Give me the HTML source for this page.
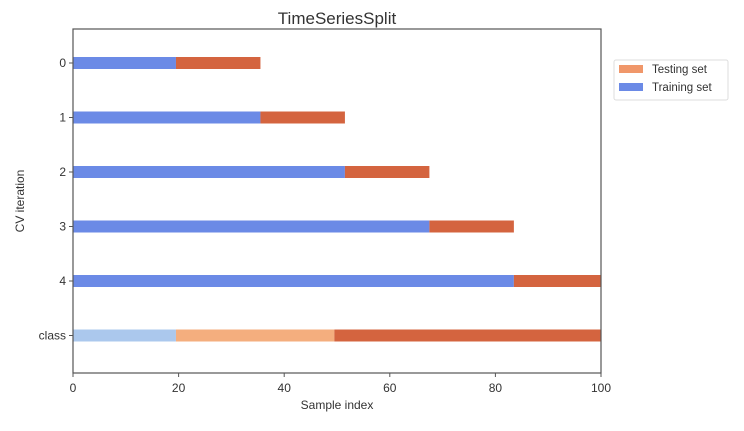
<!DOCTYPE html>
<html><head><meta charset="utf-8"><style>
html,body{margin:0;padding:0;background:#fff;}
svg text{font-family:"Liberation Sans","DejaVu Sans",sans-serif;fill:#333;}
</style></head><body>
<svg id="chart" width="744" height="426" xmlns="http://www.w3.org/2000/svg">
<text x="337" y="24" font-size="17" text-anchor="middle">TimeSeriesSplit</text>
<g id="marks"></g>
<rect x="73" y="29" width="528" height="344" fill="none" stroke="#555" stroke-width="1.2"/>
<g id="axes"></g>
<text x="337" y="409" font-size="12" text-anchor="middle">Sample index</text>
<text transform="translate(24,201) rotate(-90)" font-size="12" text-anchor="middle">CV iteration</text>
<g>
<rect x="614" y="60" width="114" height="40" fill="#fff" stroke="#ddd" rx="2"/>
<rect x="619" y="65" width="24" height="8" fill="#f0976a"/>
<text x="652" y="73" font-size="11.5">Testing set</text>
<rect x="619" y="83" width="24" height="8" fill="#6b8ae6"/>
<text x="652" y="91" font-size="11.5">Training set</text>
</g>
</svg>
<script>
const rowLabels = ["0","1","2","3","4","class"];
const trainEnd = [19.5, 35.5, 51.5, 67.5, 83.5];
const testEnd = [35.5, 51.5, 67.5, 83.5, 100];
const classBounds = [0, 19.5, 49.5, 100];
const xTicks = [0, 20, 40, 60, 80, 100];

const NS = "http://www.w3.org/2000/svg";
const xs = v => 73 + v * 5.28;
const ys = i => 63 + i * 54.5;
const classColors = ["#abc8ed", "#f4ae7e", "#d4643f"];
const marks = document.getElementById("marks");
const axes = document.getElementById("axes");
function mk(tag, attrs, parent) {
  const e = document.createElementNS(NS, tag);
  for (const k in attrs) e.setAttribute(k, attrs[k]);
  parent.appendChild(e);
  return e;
}
trainEnd.forEach((t, i) => {
  const r = mk("rect", {x: xs(0), y: ys(i) - 6, width: xs(t) - xs(0), height: 12, fill: "#6b8ae6"}, marks);
  
  
  const r2 = mk("rect", {x: xs(t), y: ys(i) - 6, width: xs(testEnd[i]) - xs(t), height: 12, fill: "#d4643f"}, marks);
  
  
});
for (let c = 0; c < classBounds.length - 1; c++) {
  const r = mk("rect", {x: xs(classBounds[c]), y: ys(5) - 6, width: xs(classBounds[c+1]) - xs(classBounds[c]), height: 12, fill: classColors[c]}, marks);
  
  
}
rowLabels.forEach((l, i) => {
  mk("line", {x1: 69, x2: 73, y1: ys(i), y2: ys(i), stroke: "#555"}, axes);
  const t = mk("text", {x: 66, y: ys(i) + 4, "font-size": 12, "text-anchor": "end"}, axes);
  t.textContent = l;
  
  
});
xTicks.forEach(v => {
  mk("line", {x1: xs(v), x2: xs(v), y1: 373, y2: 377, stroke: "#555"}, axes);
  const t = mk("text", {x: xs(v), y: 392, "font-size": 12, "text-anchor": "middle"}, axes);
  t.textContent = v;
  
  
});
</script>
</body></html>
